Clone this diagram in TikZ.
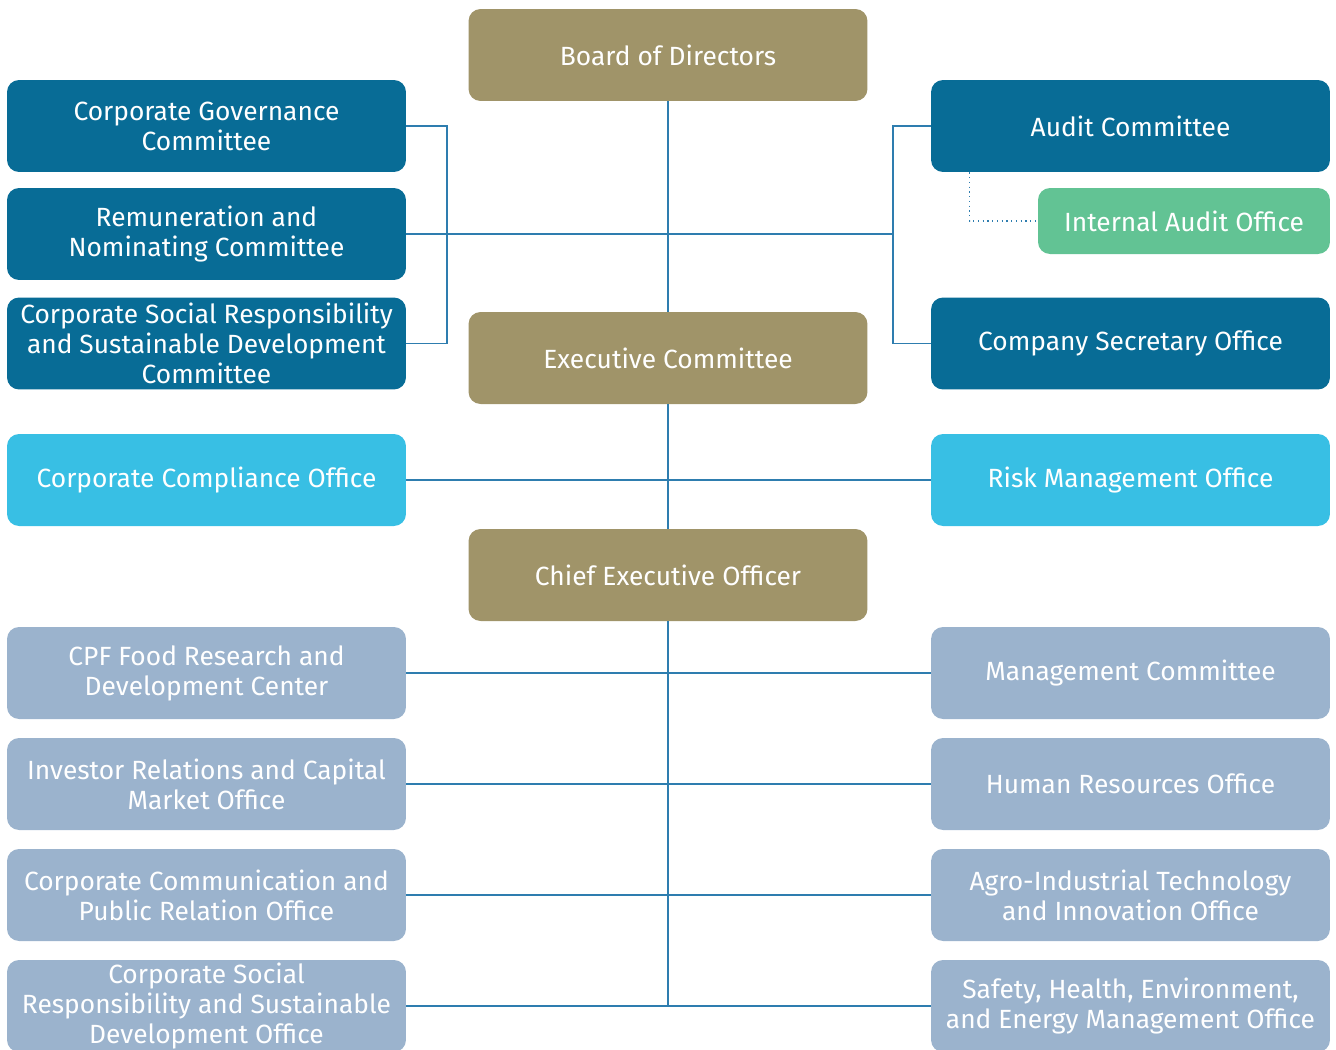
\documentclass[tikz,border=0pt]{standalone}
\usepackage{fontspec}
\setmainfont{Fira Sans}
\usetikzlibrary{positioning}

\definecolor{gold}{HTML}{A09469}
\definecolor{navy}{HTML}{086C96}
\definecolor{mint}{HTML}{62C394}
\definecolor{sky}{HTML}{38BFE4}
\definecolor{slate}{HTML}{9BB3CD}
\definecolor{wire}{HTML}{2E7DAF}

\tikzstyle{every node}=[font=\fontsize{15}{17}\selectfont]
\tikzstyle{box}=[rounded corners=0.24cm, text=white, align=center, inner sep=0pt,
                 minimum width=7.98cm, minimum height=1.84cm]
\tikzstyle{conn}=[wire, line width=0.7pt]

\begin{document}
\begin{tikzpicture}[x=0.02cm, y=-0.02cm]
            \useasboundingbox (0,0) rectangle (1336,1049);

            % 中间一列
            \node[box, fill=gold] (bod) at (668,55) {Board of Directors};
            \node[box, fill=gold] (exc) at (668,358) {Executive Committee};
            \node[box, fill=gold] (ceo) at (668,575) {Chief Executive Officer};

            % 左侧委员会
            \node[box, fill=navy] (cgc) at (206.5,126) {Corporate Governance\\Committee};
            \node[box, fill=navy] (rnc) at (206.5,234) {Remuneration and\\Nominating Committee};
            \node[box, fill=navy] (csr) at (206.5,343.5) {Corporate Social Responsibility\\and Sustainable Development\\Committee};

            % 右侧委员会
            \node[box, fill=navy] (adc) at (1130.5,126) {Audit Committee};
            \node[box, fill=mint, minimum width=5.84cm, minimum height=1.32cm] (iao) at (1184,221) {Internal Audit Office};
            \node[box, fill=navy] (cso) at (1130.5,343.5) {Company Secretary Office};

            % 合规与风险
            \node[box, fill=sky] (cco) at (206.5,480) {Corporate Compliance Office};
            \node[box, fill=sky] (rmo) at (1130.5,480) {Risk Management Office};

            % 下属部门
            \node[box, fill=slate] (frd) at (206.5,673) {CPF Food Research and\\Development Center};
            \node[box, fill=slate] (irc) at (206.5,784) {Investor Relations and Capital\\Market Office};
            \node[box, fill=slate] (ccp) at (206.5,895) {Corporate Communication and\\Public Relation Office};
            \node[box, fill=slate] (sdo) at (206.5,1006) {Corporate Social\\Responsibility and Sustainable\\Development Office};
            \node[box, fill=slate] (mgc) at (1130.5,673) {Management Committee};
            \node[box, fill=slate] (hro) at (1130.5,784) {Human Resources Office};
            \node[box, fill=slate] (ato) at (1130.5,895) {Agro-Industrial Technology\\and Innovation Office};
            \node[box, fill=slate] (she) at (1130.5,1006) {Safety, Health, Environment,\\and Energy Management Office};

            % 括号位置
            \coordinate (brl) at (447,0);
            \coordinate (brr) at (893,0);

            % 主干线
            \draw[conn] (bod) -- (exc);
            \draw[conn] (exc) -- (ceo);
            \draw[conn] (ceo.south) -- (ceo.south |- sdo.east);

            % 委员会连线
            \draw[conn] (cgc.east) -| (brl |- csr.east) -- (csr.east);
            \draw[conn] (adc.west) -| (brr |- cso.west) -- (cso.west);
            \draw[conn] (rnc.east) -- (rnc.east -| brr);
            \draw[conn, dotted] ([xshift=0.78cm]adc.south west) |- (iao.west);

            % 横向连线
            \draw[conn] (cco.east) -- (rmo.west);
            \draw[conn] (frd.east) -- (mgc.west);
            \draw[conn] (irc.east) -- (hro.west);
            \draw[conn] (ccp.east) -- (ato.west);
            \draw[conn] (sdo.east) -- (she.west);
        \end{tikzpicture}
\end{document}
